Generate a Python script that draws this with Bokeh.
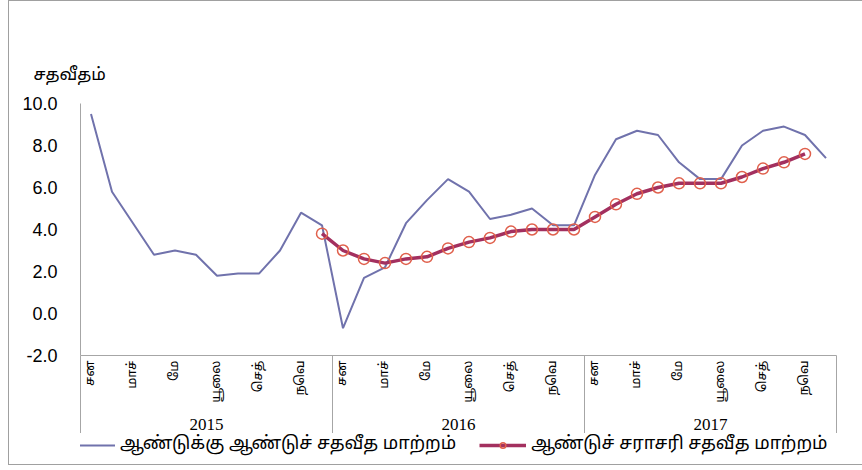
import math
from bokeh.plotting import figure
from bokeh.layouts import column
from bokeh.models import (Range1d, FixedTicker, LinearAxis, Legend, LegendItem,
                          Title, NumeralTickFormatter, InlineStyleSheet)
from bokeh.embed import file_html
from bokeh.resources import INLINE

# ---------------- data ----------------
years = ["2015", "2016", "2017"]
month_labels = ["சன", "மாச்", "மே", "யூலை", "செத்", "நவெ"]   # shown every second month
y_ticks = [-2, 0, 2, 4, 6, 8, 10]
y_title = "சதவீதம்"
series_names = ["ஆண்டுக்கு ஆண்டுச் சதவீத மாற்றம்",
                "ஆண்டுச் சராசரி சதவீத மாற்றம்"]

yoy = [9.5, 5.8, 4.3, 2.8, 3.0, 2.8, 1.8, 1.9, 1.9, 3.0, 4.8, 4.2,
       -0.7, 1.7, 2.2, 4.3, 5.4, 6.4, 5.8, 4.5, 4.7, 5.0, 4.2, 4.2,
       6.6, 8.3, 8.7, 8.5, 7.2, 6.4, 6.4, 8.0, 8.7, 8.9, 8.5, 7.4]

nan = float("nan")
avg = [nan, nan, nan, nan, nan, nan, nan, nan, nan, nan, nan, 3.8,
       3.0, 2.6, 2.4, 2.6, 2.7, 3.1, 3.4, 3.6, 3.9, 4.0, 4.0, 4.0,
       4.6, 5.2, 5.7, 6.0, 6.2, 6.2, 6.2, 6.5, 6.9, 7.2, 7.6, nan]

# ---------------- styles ----------------
n = len(yoy)
per_year = 12
x = [i + 0.5 for i in range(n)]

AXIS_GRAY = "#A6A6A6"
TAMIL = "Latha, 'Noto Sans Tamil', 'Noto Serif Tamil', 'Lohit Tamil', sans-serif"
YOY_STYLE = dict(line_color="#7072AC", line_width=2)
AVG_STYLE = dict(line_color="#A3305F", line_width=3.5)
MARK_STYLE = dict(marker="circle", size=11, fill_color=None,
                  line_color="#E0604C", line_width=1.5)

frame_css = InlineStyleSheet(css="""
:host { position: relative; }
:host::after {
  content: ""; position: absolute; left: 8px; top: 0px;
  width: calc(100% - 8px); height: 465px; box-sizing: border-box;
  border-left: 1px solid #A0A0A0; border-top: 1px solid #A0A0A0;
  border-bottom: 1px solid #A0A0A0; pointer-events: none;
}
""")

# ---------------- main chart ----------------
p = figure(frame_width=756, frame_height=252, output_backend="svg", toolbar_location=None,
           x_range=Range1d(0, n), y_range=Range1d(y_ticks[0], y_ticks[-1]),
           min_border_left=80, min_border_right=26, min_border_top=103,
           min_border_bottom=78)
p.grid.visible = False
p.outline_line_color = None
p.background_fill_color = "white"
p.border_fill_color = "white"

p.add_layout(Title(text=y_title, align="left", offset=-47, standoff=36,
                   text_font=TAMIL, text_font_size="17px",
                   text_font_style="normal", text_color="black"), "above")

# month axis (labels every second month, group separators as minor ticks)
label_ticks = [g * per_year + 2 * i + 0.5 for g in range(len(years)) for i in range(len(month_labels))]
sep_ticks = [g * per_year for g in range(len(years) + 1)]
xa = p.xaxis[0]
xa.ticker = FixedTicker(ticks=label_ticks, minor_ticks=sep_ticks)
xa.major_label_overrides = {t: month_labels[k % len(month_labels)] for k, t in enumerate(label_ticks)}
xa.major_label_orientation = math.pi / 2
xa.major_tick_line_color = None
xa.major_tick_in = 0
xa.major_tick_out = 0
xa.minor_tick_in = 0
xa.minor_tick_out = 83
xa.minor_tick_line_color = AXIS_GRAY
xa.axis_line_color = AXIS_GRAY
xa.major_label_standoff = -78
xa.major_label_text_font = TAMIL
xa.major_label_text_font_size = "13px"
xa.major_label_text_color = "black"

# year axis
year_ticks = [g * per_year + per_year / 2 for g in range(len(years))]
ya2 = LinearAxis(ticker=FixedTicker(ticks=year_ticks, minor_ticks=[]),
                 major_label_overrides={t: years[k] for k, t in enumerate(year_ticks)})
ya2.axis_line_color = None
ya2.major_tick_line_color = None
ya2.minor_tick_line_color = None
ya2.major_tick_in = 0
ya2.major_tick_out = 0
ya2.major_label_standoff = 13
ya2.major_label_text_font = "Liberation Serif"
ya2.major_label_text_font_size = "17px"
ya2.major_label_text_color = "black"
p.add_layout(ya2, "below")

# y axis
yax = p.yaxis[0]
yax.ticker = FixedTicker(ticks=y_ticks, minor_ticks=[])
yax.formatter = NumeralTickFormatter(format="0.0")
yax.axis_line_color = AXIS_GRAY
yax.major_tick_line_color = None
yax.minor_tick_line_color = None
yax.major_tick_in = 0
yax.major_tick_out = 0
yax.major_label_standoff = 23
yax.major_label_text_font = "Liberation Sans"
yax.major_label_text_font_size = "18px"
yax.major_label_text_color = "black"

p.line(x, yoy, **YOY_STYLE)
p.line(x, avg, **AVG_STYLE)
p.scatter(x, avg, **MARK_STYLE)

# ---------------- legend strip ----------------
q = figure(width=862, height=37, output_backend="svg", toolbar_location=None,
           x_axis_type=None, y_axis_type=None, min_border=0,
           x_range=Range1d(0, n), y_range=Range1d(y_ticks[0], y_ticks[-1]))
q.grid.visible = False
q.outline_line_color = None
q.background_fill_color = "white"
q.border_fill_color = "white"
l1 = q.line(x, yoy, visible=False, **YOY_STYLE)
l2 = q.line(x, avg, visible=False, **AVG_STYLE)
l3 = q.scatter(x, avg, visible=False, **MARK_STYLE)
legend = Legend(items=[LegendItem(label=series_names[0], renderers=[l1]),
                       LegendItem(label=series_names[1], renderers=[l2, l3])],
                orientation="horizontal", location=(-12, 14),
                border_line_color=None, background_fill_alpha=0,
                inactive_fill_alpha=0,
                glyph_width=47, glyph_height=14, label_height=14,
                label_standoff=5, spacing=23, padding=0, margin=0,
                label_text_font=TAMIL, label_text_font_size="18px",
                label_text_color="black")
q.add_layout(legend, "center")

layout = column(p, q, spacing=0, stylesheets=[frame_css])
open("out.html", "w").write(file_html(layout, INLINE))
